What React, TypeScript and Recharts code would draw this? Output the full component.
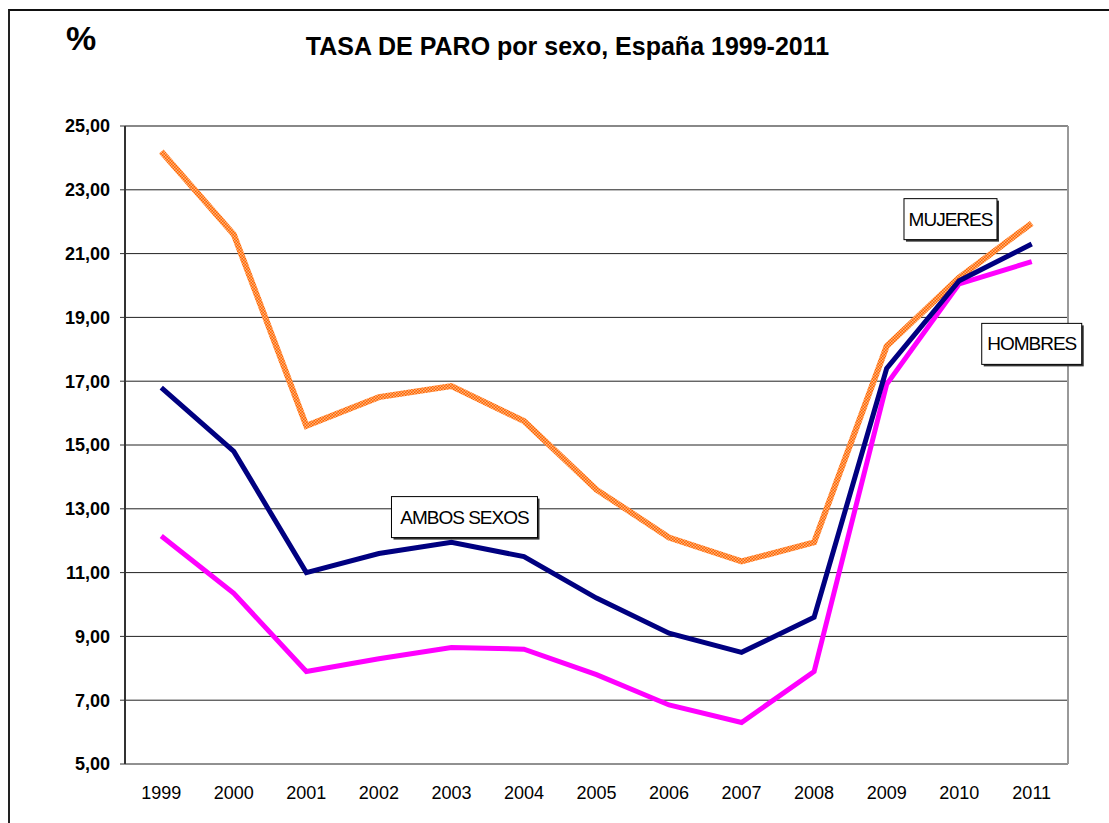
import { LineChart, Line, XAxis, YAxis, CartesianGrid, ReferenceLine, ReferenceDot } from 'recharts';

const years = ['1999', '2000', '2001', '2002', '2003', '2004', '2005', '2006', '2007', '2008', '2009', '2010', '2011'];
const mujeres = [24.2, 21.6, 15.6, 16.5, 16.85, 15.75, 13.6, 12.1, 11.35, 11.95, 18.1, 20.25, 21.95];
const ambos = [16.8, 14.8, 11.0, 11.6, 11.95, 11.5, 10.2, 9.1, 8.5, 9.6, 17.4, 20.15, 21.3];
const hombres = [12.15, 10.35, 7.9, 8.3, 8.65, 8.6, 7.8, 6.85, 6.3, 7.9, 16.9, 20.05, 20.75];
const yTicks = [5, 7, 9, 11, 13, 15, 17, 19, 21, 23, 25];

const data = years.map((year, i) => ({ pos: i + 0.5, year, mujeres: mujeres[i], ambos: ambos[i], hombres: hombres[i] }));
const boundaryTicks = [...years.map((_, i) => i), years.length];
const centerTicks = years.map((_, i) => i + 0.5);

// annotation boxes (x in category units, y in %)
const notes = [
    { text: 'MUJERES', x: 11.38, y: 22.08, w: 93 },
    { text: 'HOMBRES', x: 12.5, y: 18.17, w: 100 },
    { text: 'AMBOS SEXOS', x: 4.68, y: 12.74, w: 146 },
];

const font = '"Liberation Sans", Arial, sans-serif';

function NoteBox({ cx, cy, text, w }: any) {
    const h = 41;
    const x = cx - w / 2, y = cy - h / 2;
    return (
        <g>
            <rect x={x + 2} y={y + 2} width={w} height={h} fill="#333" />
            <rect x={x} y={y} width={w} height={h} fill="#fff" stroke="#000" strokeWidth={1} />
            <text x={cx} y={cy + 6.5} textAnchor="middle" fontFamily={font} fontSize={19} letterSpacing={-1} fill="#000">{text}</text>
        </g>
    );
}

export default function App() {
    return (
        <div style={{ position: 'absolute', left: 0, top: 0, width: 1109, height: 823, background: '#fff', fontFamily: font, overflow: 'hidden' }}>
            <div style={{ position: 'absolute', left: 8, top: 9, width: 1120, height: 840, borderTop: '2px solid #111', borderLeft: '2px solid #222' }} />
            <div style={{ position: 'absolute', left: 66, top: 19, fontSize: 34, fontWeight: 'bold' }}>%</div>
            <div style={{ position: 'absolute', left: 0, width: 1135, top: 32, textAlign: 'center', fontSize: 25, fontWeight: 'bold' }}>TASA DE PARO por sexo, España 1999-2011</div>
            <div style={{ position: 'absolute', left: 0, top: 0 }}>
                <LineChart width={1109} height={823} data={data} margin={{ top: 126, right: 41, bottom: 0, left: 0 }}>
                    <defs>
                        <pattern id="orangeTex" width="3" height="3" patternUnits="userSpaceOnUse">
                            <rect width="3" height="3" fill="#FF6200" />
                            <rect width="1.5" height="1.5" fill="#FFB478" />
                            <rect x="1.5" y="1.5" width="1.5" height="1.5" fill="#FFB478" />
                        </pattern>
                    </defs>
                    <CartesianGrid xAxisId="b" vertical={false} stroke="#222" strokeWidth={1} />
                    <XAxis xAxisId="b" type="number" dataKey="pos" domain={[0, 13]} ticks={boundaryTicks} tick={false} tickSize={6} height={0}
                        axisLine={{ stroke: '#333', strokeWidth: 2 }} tickLine={{ stroke: '#333' }} allowDataOverflow />
                    <XAxis xAxisId="c" type="number" dataKey="pos" domain={[0, 13]} ticks={centerTicks} height={59}
                        tickFormatter={(v: number) => years[Math.floor(v)]} axisLine={false} tickLine={false} tickMargin={16}
                        tick={{ fill: '#000', fontSize: 18, fontFamily: font }} />
                    <YAxis domain={[5, 25]} ticks={yTicks} width={125} tickSize={5} tickMargin={10} interval={0}
                        tickFormatter={(v: number) => v.toFixed(2).replace('.', ',')}
                        axisLine={{ stroke: '#333', strokeWidth: 2 }} tickLine={{ stroke: '#333' }}
                        tick={{ fill: '#000', fontSize: 18, fontWeight: 'bold', fontFamily: font }} />
                    <ReferenceLine xAxisId="b" y={25} stroke="#888" strokeWidth={2} />
                    <ReferenceLine xAxisId="b" x={13} stroke="#999" strokeWidth={2} />
                    <Line xAxisId="b" dataKey="mujeres" stroke="url(#orangeTex)" strokeWidth={6} dot={false} isAnimationActive={false} strokeLinejoin="miter" />
                    <Line xAxisId="b" dataKey="hombres" stroke="#FF00FF" strokeWidth={5} dot={false} isAnimationActive={false} strokeLinejoin="miter" />
                    <Line xAxisId="b" dataKey="ambos" stroke="#000080" strokeWidth={5} dot={false} isAnimationActive={false} strokeLinejoin="miter" />
                    {notes.map(n => (
                        <ReferenceDot key={n.text} xAxisId="b" x={n.x} y={n.y} r={0}
                            shape={(p: any) => <NoteBox cx={p.cx} cy={p.cy} text={n.text} w={n.w} />} />
                    ))}
                </LineChart>
            </div>
        </div>
    );
}
